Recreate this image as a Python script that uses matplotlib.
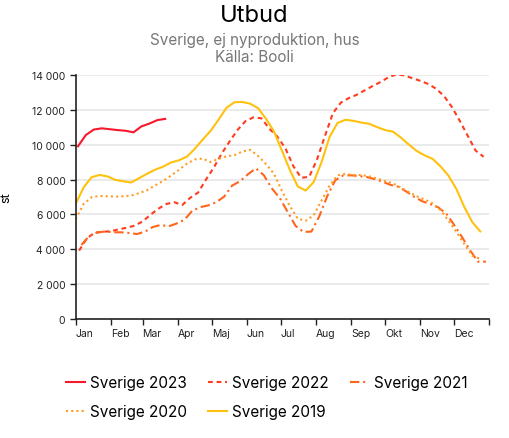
import numpy as np
import matplotlib
matplotlib.use("Agg")
import matplotlib.pyplot as plt
from matplotlib.ticker import FuncFormatter

plt.rcParams['font.family'] = ['Inter', 'DejaVu Sans']

# veckovärden, utbud antal hus
sverige_2023 = [9900, 10550, 10860, 10930, 10880, 10830, 10790, 10700, 11040, 11200, 11400, 11470]

sverige_2022 = [3930, 4650, 4950, 5010, 5040, 5150, 5240, 5360, 5600, 5980, 6330, 6600, 6700,
                6540, 6950, 7250, 8000, 8700, 9500, 10200, 10850, 11350, 11560, 11500, 10900,
                10450, 9800, 8770, 8100, 8150, 9150, 10500, 11800, 12400, 12660, 12850, 13100,
                13350, 13580, 13850, 14020, 13960, 13800, 13650, 13470, 13200, 12780, 12150,
                11350, 10500, 9650, 9300]

sverige_2021 = [4250, 4780, 4980, 5020, 4980, 4980, 4940, 4880, 5010, 5280, 5400, 5320, 5480,
                5700, 6220, 6420, 6520, 6700, 7020, 7650, 7900, 8300, 8640, 8250, 7500, 6950,
                6150, 5350, 5000, 5020, 5900, 7050, 7950, 8230, 8240, 8200, 8140, 8020, 7870,
                7690, 7580, 7300, 7000, 6750, 6590, 6400, 6050, 5400, 4700, 3950, 3300, 3300]

sverige_2020 = [5740, 6600, 6990, 7060, 7040, 7020, 7040, 7080, 7220, 7390, 7660, 7910, 8220,
                8550, 8900, 9150, 9200, 9000, 9180, 9330, 9390, 9600, 9700, 9350, 8880, 8330,
                7350, 6480, 5760, 5640, 5950, 6800, 7640, 8240, 8320, 8260, 8260, 8180, 8050,
                7920, 7780, 7530, 7280, 7040, 6850, 6640, 6250, 5650, 5000, 4300, 3640, 3450]

sverige_2019 = [6600, 7550, 8130, 8260, 8180, 7980, 7900, 7830, 8080, 8330, 8560, 8730, 8970,
                9100, 9300, 9750, 10280, 10780, 11420, 12100, 12420, 12440, 12340, 12080, 11470,
                10750, 9650, 8550, 7600, 7370, 7850, 9000, 10430, 11230, 11420, 11360, 11260,
                11190, 11000, 10830, 10740, 10400, 10000, 9630, 9380, 9180, 8750, 8220, 7450,
                6420, 5560, 5030]

# första veckans dag på året för varje serie
startdag = {'2023': 2, '2022': 3, '2021': 5, '2020': 0, '2019': 0}

manader = ['Jan', 'Feb', 'Mar', 'Apr', 'Maj', 'Jun', 'Jul', 'Aug', 'Sep', 'Okt', 'Nov', 'Dec']
manad_start = [0, 31, 59, 90, 120, 151, 181, 212, 243, 273, 304, 334, 365]


def dagar(serie, start):
    return start + 7 * np.arange(len(serie))


fig = plt.figure(figsize=(5.09, 4.39), dpi=100)
ax = fig.add_axes([0.1487, 0.2704, 0.8126, 0.5572])

l23, = ax.plot(dagar(sverige_2023, startdag['2023']), sverige_2023, color='#f8182c', lw=1.5,
               label='Sverige 2023')
l22, = ax.plot(dagar(sverige_2022, startdag['2022']), sverige_2022, color='#ff3c1e', lw=1.5,
               dashes=(2.3, 1.8), label='Sverige 2022')
l21, = ax.plot(dagar(sverige_2021, startdag['2021']), sverige_2021, color='#ff661c', lw=1.5,
               dashes=(4.5, 1.8, 1, 1.8), label='Sverige 2021')
l20, = ax.plot(dagar(sverige_2020, startdag['2020']), sverige_2020, color='#ff9c22', lw=1.5,
               dashes=(1, 1.5), label='Sverige 2020')
l19, = ax.plot(dagar(sverige_2019, startdag['2019']), sverige_2019, color='#ffc10e', lw=1.5,
               label='Sverige 2019')

ax.set_xlim(0, 365)
ax.set_ylim(0, 14000)
ax.set_yticks(range(0, 14001, 2000))
ax.yaxis.set_major_formatter(FuncFormatter(lambda v, p: f"{v:,.0f}".replace(",", " ")))
ax.grid(axis='y', color='#e6e6e6', lw=1.2)
ax.set_axisbelow(True)

ax.set_xticks(manad_start)
ax.set_xticklabels(manader + [''])
for lab in ax.get_xticklabels():
    lab.set_horizontalalignment('left')

for s in ['top', 'right']:
    ax.spines[s].set_visible(False)
for s in ['left', 'bottom']:
    ax.spines[s].set_color('#222222')
    ax.spines[s].set_linewidth(1.2)
ax.tick_params(axis='both', colors='#222222', labelsize=7.5, length=4, width=1)
ax.tick_params(axis='x', pad=2)

ax.set_ylabel('st', fontsize=9, labelpad=14)

fig.text(0.5, 1 - 16 / 439, 'Utbud', ha='center', va='center', fontsize=17, color='black')
fig.text(0.5, 1 - 40 / 439, 'Sverige, ej nyproduktion, hus', ha='center', va='center',
         fontsize=11, color='#777777')
fig.text(0.5, 1 - 58 / 439, 'Källa: Booli', ha='center', va='center', fontsize=11,
         color='#777777')

# ordning så att raderna fylls: 2023 2022 2021 / 2020 2019
handtag = [l23, l20, l22, l19, l21]
fig.legend(handtag, [h.get_label() for h in handtag], loc='center',
           bbox_to_anchor=(267 / 509, 1 - 398 / 439), ncol=3, frameon=False,
           fontsize=11, handlelength=1.2, handletextpad=0.35, columnspacing=1.4,
           labelspacing=0.9)

fig.savefig('out.png', dpi=100)
